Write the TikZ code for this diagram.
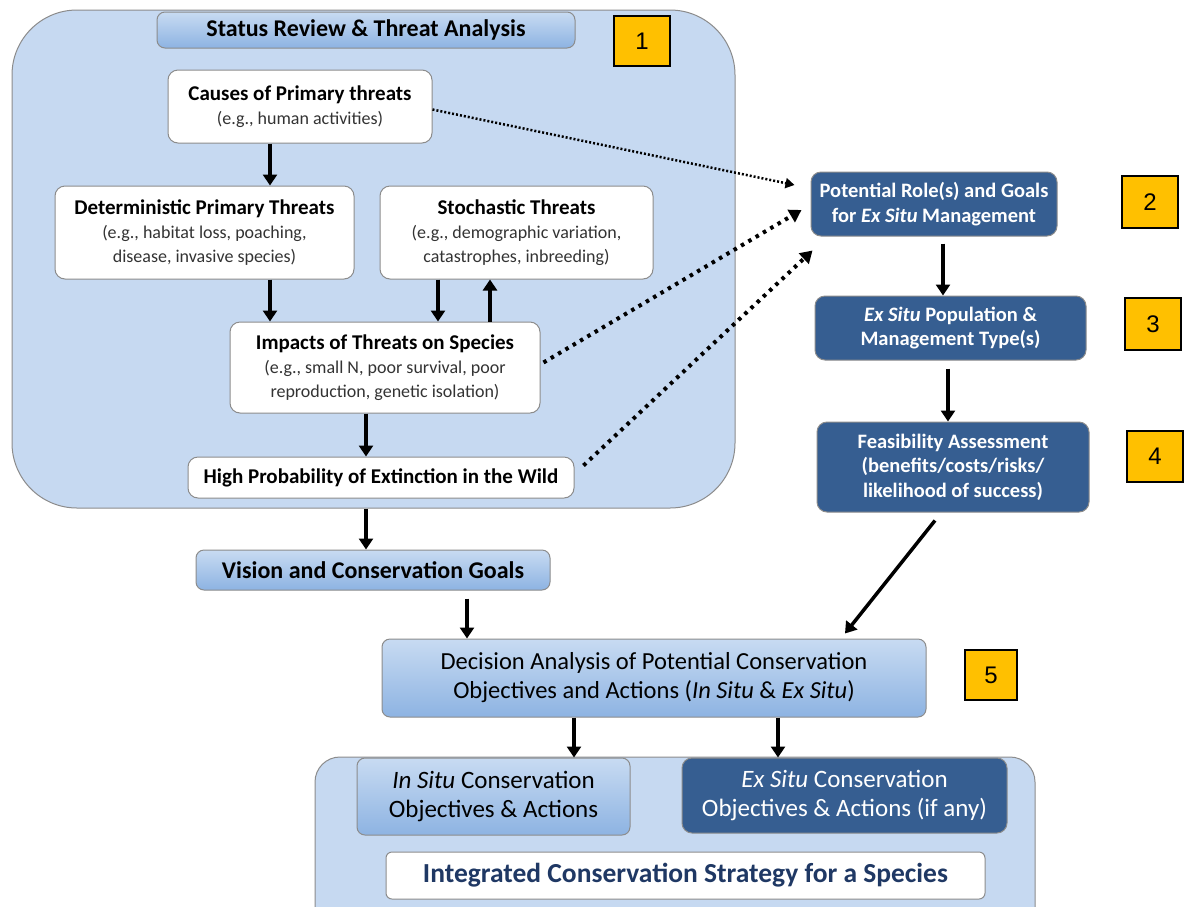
\documentclass[tikz,border=0pt]{standalone}
\usepackage{fontspec}
\setmainfont{Carlito}
\newfontfamily\numfont{Liberation Sans}
\usetikzlibrary{arrows.meta}

\definecolor{panelblue}{RGB}{198,217,241}
\definecolor{gradtop}{RGB}{200,219,242}
\definecolor{gradbot}{RGB}{141,179,226}
\definecolor{darkblue}{RGB}{54,94,145}
\definecolor{edgegray}{RGB}{140,140,140}
\definecolor{numgold}{RGB}{255,192,0}
\definecolor{navytext}{RGB}{31,56,100}

\newcommand{\hd}[1]{{\bfseries\fontsize{21}{24}\selectfont #1}}
\newcommand{\sub}[1]{{\color{black!80}\fontsize{18}{24}\selectfont #1}}

\tikzset{
  panel/.style={draw=edgegray, fill=panelblue, line width=1pt},
  whitebox/.style={draw=edgegray, fill=white, rounded corners=10pt, align=center,
    line width=1pt, inner sep=2pt, font=\fontsize{18}{24}\selectfont},
  gradbox/.style={draw=edgegray, top color=gradtop, bottom color=gradbot,
    rounded corners=8pt, align=center, line width=1pt, inner sep=2pt},
  darkbox/.style={draw=edgegray, fill=darkblue, text=white, rounded corners=10pt,
    align=center, line width=1pt, inner sep=2pt,
    font=\bfseries\fontsize{20.5}{24.5}\selectfont},
  numbox/.style={draw=black, fill=numgold, line width=1.5pt,
    font=\numfont\fontsize{24}{24}\selectfont},
  arr/.style={line width=3.5pt, -{Triangle[width=14pt,length=11pt]}},
  dotarr/.style={line width=4pt, dash pattern=on 3.5pt off 5pt,
    -{Triangle[width=14pt,length=12pt]}},
  thindot/.style={line width=2.5pt, dash pattern=on 2pt off 2pt,
    -{Triangle[width=10pt,length=9pt]}},
}

\begin{document}
\begin{tikzpicture}[x=1pt,y=-1pt]
  \clip (0,0) rectangle (1184,906);
  \fill[white] (0,0) rectangle (1184,906);

  % panel 1: status review
  \node[panel, rounded corners=65pt, minimum width=723pt, minimum height=498pt]
    (review) at (373.5,259) {};
  \node[gradbox, minimum width=418pt, minimum height=36pt,
    font=\bfseries\fontsize{24}{26}\selectfont] (title) at (366,30)
    {Status Review \& Threat Analysis};
  \node[numbox, minimum width=56pt, minimum height=50pt] (n1) at (642,41) {1};

  \node[whitebox, minimum width=264pt, minimum height=73pt] (causes) at (300,106.5)
    {\hd{Causes of Primary threats}\\ \sub{(e.g., human activities)}};
  \node[whitebox, minimum width=299pt, minimum height=93pt] (det) at (204.5,232.5)
    {\hd{Deterministic Primary Threats}\\ \sub{(e.g., habitat loss, poaching,}\\
     \sub{disease, invasive species)}};
  \node[whitebox, minimum width=273pt, minimum height=93pt] (sto) at (516.5,232.5)
    {\hd{Stochastic Threats}\\ \sub{(e.g., demographic variation,}\\
     \sub{catastrophes, inbreeding)}};
  \node[whitebox, minimum width=310pt, minimum height=91pt] (imp) at (385,367.5)
    {\hd{Impacts of Threats on Species}\\ \sub{(e.g., small N, poor survival, poor}\\
     \sub{reproduction, genetic isolation)}};
  \node[whitebox, minimum width=386pt, minimum height=41pt] (hp) at (381,477.5)
    {\hd{High Probability of Extinction in the Wild}};

  \node[gradbox, minimum width=354pt, minimum height=40pt,
    font=\bfseries\fontsize{24}{26}\selectfont] (vision) at (373,570)
    {Vision and Conservation Goals};
  \node[gradbox, minimum width=544pt, minimum height=78pt,
    font=\fontsize{24.5}{29}\selectfont] (dec) at (654,678)
    {Decision Analysis of Potential Conservation\\
     Objectives and Actions (\textit{In Situ} \& \textit{Ex Situ})};
  \node[numbox, minimum width=52pt, minimum height=50pt] (n5) at (991,675) {5};

  % ex situ column
  \node[darkbox, minimum width=246pt, minimum height=64pt] (role) at (934,204)
    {Potential Role(s) and Goals\\ for \textit{Ex Situ} Management};
  \node[numbox, minimum width=56pt, minimum height=52pt] (n2) at (1150,202) {2};
  \node[darkbox, minimum width=271pt, minimum height=64pt] (pop) at (950.5,328)
    {\textit{Ex Situ} Population \&\\ Management Type(s)};
  \node[numbox, minimum width=56pt, minimum height=52pt] (n3) at (1153,324) {3};
  \node[darkbox, minimum width=272pt, minimum height=90pt] (feas) at (953,467)
    {Feasibility Assessment\\ (benefits/costs/risks/\\ likelihood of success)};
  \node[numbox, minimum width=56pt, minimum height=51pt] (n4) at (1155,456.5) {4};

  % panel 2: strategy
  \node[panel, rounded corners=25pt, minimum width=720pt, minimum height=180pt]
    (strategy) at (675,847) {};
  \node[gradbox, minimum width=273pt, minimum height=77pt,
    font=\fontsize{25}{29.5}\selectfont] (insitu) at (493.5,796.5)
    {\textit{In Situ} Conservation\\ Objectives \& Actions};
  \node[darkbox, minimum width=325pt, minimum height=75pt,
    font=\fontsize{25}{29.5}\selectfont] (exsitu) at (844.5,795.5)
    {\textit{Ex Situ} Conservation\\ Objectives \& Actions (if any)};
  \node[whitebox, rounded corners=6pt, minimum width=599pt, minimum height=47pt,
    text=navytext, font=\bfseries\fontsize{27.5}{30}\selectfont] (integ) at (685.5,875.5)
    {Integrated Conservation Strategy for a Species};

  % solid arrows
  \draw[arr] ([xshift=-30pt]causes.south) -- ([xshift=-30pt]causes.south |- det.north);
  \draw[arr] ([xshift=65.5pt]det.south) -- ([xshift=65.5pt]det.south |- imp.north);
  \draw[arr] ([xshift=-78.5pt]sto.south) -- ([xshift=-78.5pt]sto.south |- imp.north);
  \draw[arr] ([xshift=105pt]imp.north) -- ([xshift=105pt]imp.north |- sto.south);
  \draw[arr] ([xshift=-19pt]imp.south) -- ([xshift=-19pt]imp.south |- hp.north);
  \draw[arr] ([xshift=-7.5pt]review.south) -- ([xshift=-7.5pt]review.south |- vision.north);
  \draw[arr] ([xshift=94pt,yshift=-8pt]vision.south) -- ([xshift=94pt]vision.south |- dec.north);
  \draw[arr] ([xshift=-80pt]dec.south) -- ([xshift=-80pt]dec.south |- insitu.north);
  \draw[arr] ([xshift=124pt]dec.south) -- ([xshift=124pt]dec.south |- exsitu.north);
  \draw[arr] ([xshift=9pt,yshift=-7pt]role.south) -- ([xshift=9pt]role.south |- pop.north);
  \draw[arr] ([xshift=-2.5pt,yshift=-8pt]pop.south) -- ([xshift=-2.5pt]pop.south |- feas.north);
  \draw[arr] ([xshift=-18pt,yshift=-8pt]feas.south) -- ([xshift=191pt,yshift=5pt]dec.north);

  % dotted links to ex situ role
  \draw[thindot] ([yshift=-3pt]causes.east) -- ([xshift=-16pt,yshift=19pt]role.west);
  \draw[dotarr] ([xshift=3pt,yshift=5pt]imp.east) -- ([xshift=-9pt,yshift=-6pt]role.west);
  \draw[dotarr] ([xshift=9pt,yshift=12pt]hp.east) -- ([xshift=2pt,yshift=-14pt]role.south west);
\end{tikzpicture}
\end{document}
